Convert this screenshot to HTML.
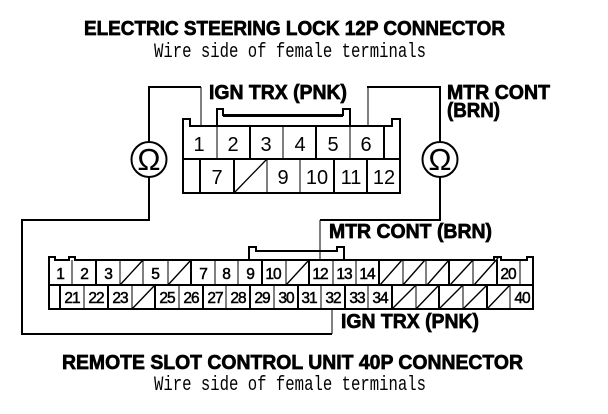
<!DOCTYPE html>
<html>
<head>
<meta charset="utf-8">
<style>
html,body{margin:0;padding:0;background:#fff;width:608px;height:414px;overflow:hidden}
svg{display:block}
text{fill:#000;font-family:"Liberation Sans",sans-serif}
.t{font-weight:bold;font-size:20px;stroke:#000;stroke-width:.7}
.s{font-family:"Liberation Mono",monospace;font-size:20px}
.a{font-size:20px;text-anchor:middle}
.b{font-size:15.5px;text-anchor:middle;letter-spacing:-1px;stroke:#000;stroke-width:.5}
</style>
</head>
<body>
<svg width="608" height="414" viewBox="0 0 608 414" xmlns="http://www.w3.org/2000/svg">
<rect width="608" height="414" fill="#fff"/>

<text class="t" x="84" y="35" textLength="421" lengthAdjust="spacingAndGlyphs">ELECTRIC STEERING LOCK 12P CONNECTOR</text>
<text class="s" x="154" y="57" textLength="272" lengthAdjust="spacingAndGlyphs">Wire side of female terminals</text>
<text class="t" x="209" y="99" textLength="138" lengthAdjust="spacingAndGlyphs">IGN TRX (PNK)</text>
<text class="t" x="447" y="99" textLength="103" lengthAdjust="spacingAndGlyphs">MTR CONT</text>
<text class="t" x="447" y="117" textLength="53" lengthAdjust="spacingAndGlyphs">(BRN)</text>
<text class="t" x="329" y="238" textLength="163" lengthAdjust="spacingAndGlyphs">MTR CONT (BRN)</text>
<text class="t" x="341" y="328" textLength="138" lengthAdjust="spacingAndGlyphs">IGN TRX (PNK)</text>
<text class="t" x="62" y="369" textLength="461" lengthAdjust="spacingAndGlyphs">REMOTE SLOT CONTROL UNIT 40P CONNECTOR</text>
<text class="s" x="154" y="390" textLength="272" lengthAdjust="spacingAndGlyphs">Wire side of female terminals</text>

<!-- wires -->
<g fill="none" stroke="#000" shape-rendering="crispEdges">
<path d="M149 142V87H201" stroke-width="2"/>
<path d="M201 87V126" stroke-width="1"/>
<path d="M149 177V220H22V334H332" stroke-width="2"/>
<path d="M332 334V309" stroke-width="1"/>
<path d="M368 126V87" stroke-width="1"/>
<path d="M367 87H440V142" stroke-width="2"/>
<path d="M440 177V220H320" stroke-width="2"/>
<path d="M320 220V260" stroke-width="1"/>
</g>

<!-- ohmmeters -->
<circle cx="149" cy="159.5" r="17.5" fill="#fff" stroke="#000" stroke-width="2"/>
<circle cx="440" cy="159.5" r="17.5" fill="#fff" stroke="#000" stroke-width="2"/>
<text x="149" y="170" font-size="31" text-anchor="middle">Ω</text>
<text x="440" y="170" font-size="31" text-anchor="middle">Ω</text>

<!-- 12P connector -->
<g fill="none" stroke="#000" shape-rendering="crispEdges">
<path d="M183 193V119H190V126H392V119H400V193Z" stroke-width="2"/>
<path d="M183 159H400" stroke-width="2"/>
<path d="M217 126V109H223V115H343V109H350V126" stroke-width="2"/>
<path d="M223 116H343" stroke-width="2"/>
<path d="M217 126V159M283 126V159M350 126V159" stroke-width="1"/>
<path d="M250 126V159M316 126V159M384 126V159" stroke-width="2"/>
<path d="M200 159V193M234 159V193M334 159V193M367 159V193" stroke-width="2"/>
<path d="M267 159V193M300 159V193" stroke-width="1"/>
</g>
<path d="M234 193L267 159" stroke="#000" stroke-width="1.3" fill="none"/>
<text class="a" x="199" y="151">1</text>
<text class="a" x="233" y="151">2</text>
<text class="a" x="266" y="151">3</text>
<text class="a" x="300" y="151">4</text>
<text class="a" x="333" y="151">5</text>
<text class="a" x="366" y="151">6</text>
<text class="a" x="217" y="184">7</text>
<text class="a" x="283" y="184">9</text>
<text class="a" x="317" y="184">10</text>
<text class="a" x="351" y="184">11</text>
<text class="a" x="384" y="184">12</text>

<!-- 40P connector -->
<g fill="none" stroke="#000" shape-rendering="crispEdges">
<path d="M49 309V257H55V260H69V257H75V260H494V257H501V260H527V257H533V309Z" stroke-width="2"/>
<path d="M49 285H533" stroke-width="2"/>
<path d="M249 260V247H256V251H337V247H344V260" stroke-width="2"/>
<path d="M256 251H337" stroke-width="2"/>
<path d="M72 260V285M120 260V285M143 260V285M168 260V285M215 260V285M238 260V285M286 260V285M333 260V285M356 260V285M403 260V285M426 260V285M473 260V285M520 260V285" stroke-width="1"/>
<path d="M96 260V285M191 260V285M262 260V285M309 260V285M379 260V285M449 260V285M497 260V285" stroke-width="2"/>
<path d="M60 285V309M108 285V309M155 285V309M203 285V309M250 285V309M298 285V309M345 285V309M392 285V309M439 285V309M487 285V309" stroke-width="2"/>
<path d="M84 285V309M132 285V309M179 285V309M226 285V309M274 285V309M321 285V309M368 285V309M416 285V309M463 285V309M510 285V309" stroke-width="1"/>
</g>
<path d="M120 285L143 260M168 285L191 260M286 285L309 260M380 285L402 260M403 285L425 260M427 285L449 260M450 285L473 260M474 285L498 258M132 309L155 285M392 309L416 285M416 309L439 285M439 309L463 285M463 309L487 285M487 309L510 285" stroke="#000" stroke-width="1.4" fill="none"/>

<text class="b" x="60" y="279">1</text>
<text class="b" x="84" y="279">2</text>
<text class="b" x="108" y="279">3</text>
<text class="b" x="155" y="279">5</text>
<text class="b" x="203" y="279">7</text>
<text class="b" x="226" y="279">8</text>
<text class="b" x="250" y="279">9</text>
<text class="b" x="273" y="279">10</text>
<text class="b" x="320" y="279">12</text>
<text class="b" x="344" y="279">13</text>
<text class="b" x="367" y="279">14</text>
<text class="b" x="508" y="279">20</text>

<text class="b" x="72" y="303">21</text>
<text class="b" x="96" y="303">22</text>
<text class="b" x="120" y="303">23</text>
<text class="b" x="167" y="303">25</text>
<text class="b" x="191" y="303">26</text>
<text class="b" x="215" y="303">27</text>
<text class="b" x="238" y="303">28</text>
<text class="b" x="262" y="303">29</text>
<text class="b" x="286" y="303">30</text>
<text class="b" x="309" y="303">31</text>
<text class="b" x="333" y="303">32</text>
<text class="b" x="357" y="303">33</text>
<text class="b" x="380" y="303">34</text>
<text class="b" x="522" y="303">40</text>
</svg>
</body>
</html>
